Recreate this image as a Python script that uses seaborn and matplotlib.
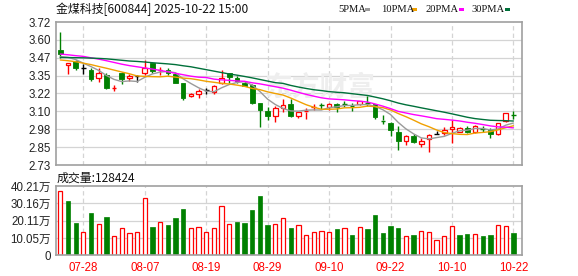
import numpy as np
import pandas as pd
import matplotlib
matplotlib.use("Agg")
import matplotlib.pyplot as plt
from matplotlib.patches import Rectangle
import seaborn as sns

# ---------------- data ----------------
dates = ["07-23", "07-24", "07-25", "07-28", "07-29", "07-30", "07-31",
         "08-01", "08-04", "08-05", "08-06", "08-07", "08-08", "08-11", "08-12", "08-13",
         "08-14", "08-15", "08-18", "08-19", "08-20", "08-21", "08-22", "08-25", "08-26",
         "08-27", "08-28", "08-29",
         "09-01", "09-02", "09-03", "09-04", "09-05", "09-08", "09-09", "09-10", "09-11",
         "09-12", "09-15", "09-16", "09-17", "09-18", "09-19", "09-22", "09-23", "09-24",
         "09-25", "09-26", "09-29", "09-30",
         "10-09", "10-10", "10-13", "10-14", "10-15", "10-16", "10-17", "10-20", "10-21", "10-22"]

opens = [3.525, 3.42, 3.452, 3.40, 3.388, 3.33, 3.353, 3.26, 3.369, 3.332,
         3.345, 3.369, 3.434, 3.386, 3.388, 3.363, 3.30, 3.205, 3.22, 3.25,
         3.238, 3.30, 3.365, 3.332, 3.30, 3.282, 3.157, 3.106, 3.071, 3.122,
         3.152, 3.071, 3.10, 3.132, 3.146, 3.134, 3.152, 3.154, 3.14, 3.15,
         3.159, 3.152, 3.04, 3.023, 2.96, 2.898, 2.928, 2.878, 2.91, 2.942,
         2.954, 2.978, 2.96, 2.988, 2.956, 2.979, 2.972, 2.942, 3.037, 3.078]
highs = [3.648, 3.437, 3.458, 3.428, 3.404, 3.404, 3.365, 3.284, 3.372, 3.36,
         3.355, 3.457, 3.437, 3.41, 3.40, 3.367, 3.30, 3.226, 3.256, 3.265,
         3.285, 3.388, 3.37, 3.348, 3.31, 3.289, 3.162, 3.134, 3.138, 3.19,
         3.19, 3.10, 3.122, 3.15, 3.161, 3.156, 3.156, 3.175, 3.157, 3.175,
         3.21, 3.155, 3.078, 3.03, 3.001, 2.937, 2.945, 2.915, 2.948, 2.965,
         2.995, 3.04, 2.99, 3.0, 3.005, 3.0, 2.988, 3.018, 3.09, 3.104]
lows = [3.47, 3.358, 3.39, 3.358, 3.311, 3.307, 3.258, 3.244, 3.289, 3.31,
        3.305, 3.353, 3.37, 3.355, 3.355, 3.30, 3.18, 3.20, 3.196, 3.22,
        3.22, 3.29, 3.296, 3.30, 3.275, 3.155, 2.99, 3.04, 3.03, 3.10,
        3.065, 3.053, 3.046, 3.11, 3.115, 3.11, 3.095, 3.134, 3.106, 3.145,
        3.138, 3.046, 3.012, 2.928, 2.836, 2.87, 2.885, 2.857, 2.822, 2.942,
        2.94, 2.88, 2.955, 2.95, 2.95, 2.956, 2.915, 2.94, 3.03, 3.048]
closes = [3.497, 3.434, 3.40, 3.40, 3.325, 3.365, 3.26, 3.263, 3.325, 3.348,
          3.345, 3.404, 3.381, 3.389, 3.369, 3.30, 3.192, 3.222, 3.242, 3.25,
          3.278, 3.33, 3.336, 3.312, 3.28, 3.157, 3.108, 3.071, 3.127, 3.145,
          3.071, 3.10, 3.105, 3.135, 3.143, 3.152, 3.129, 3.151, 3.137, 3.17,
          3.156, 3.064, 3.036, 2.972, 2.897, 2.933, 2.891, 2.896, 2.937, 2.942,
          2.975, 2.996, 2.984, 2.958, 3.0, 2.976, 2.944, 3.018, 3.09, 3.075]

# volume in 万 (10k lots)
volumes = [37.3, 31.7, 18.7, 13.5, 24.5, 18.0, 22.2, 11.0, 15.6, 12.7,
           13.3, 33.0, 16.4, 19.1, 17.6, 21.6, 26.9, 15.6, 16.2, 13.3,
           15.6, 28.4, 18.0, 19.3, 18.7, 26.3, 34.4, 17.6, 18.0, 21.5,
           15.8, 17.4, 11.6, 13.5, 14.1, 13.5, 15.3, 15.8, 11.8, 16.4,
           15.3, 23.4, 12.9, 17.0, 15.8, 11.2, 11.8, 14.1, 13.5, 8.9,
           11.2, 16.8, 11.8, 12.4, 12.4, 11.2, 11.8, 17.6, 17.0, 12.84]
# 1 = red (up) bar, 0 = green (down) bar
vol_up = [1, 0, 0, 1, 0, 1, 0, 1, 1, 1,
          1, 1, 0, 1, 0, 0, 0, 1, 1, 1,
          1, 1, 1, 0, 0, 0, 0, 0, 1, 1,
          0, 1, 1, 1, 1, 1, 0, 1, 0, 1,
          0, 0, 0, 0, 0, 1, 0, 1, 1, 1,
          1, 1, 0, 0, 1, 0, 0, 1, 1, 0]

# moving-average values for the first bars (window reaches before the chart)
ma5_head = [3.48, 3.475, 3.46, 3.435]
ma10_head = [3.457, 3.452, 3.445, 3.435, 3.425, 3.412, 3.40, 3.387, 3.374]
ma20_head = [3.498, 3.493, 3.487, 3.482, 3.472, 3.463, 3.452, 3.44, 3.428, 3.418,
             3.41, 3.402, 3.394, 3.385, 3.375, 3.365, 3.355, 3.345, 3.338]
ma30_head = [3.475, 3.474, 3.473, 3.472, 3.47, 3.468, 3.465, 3.46, 3.455, 3.45,
             3.447, 3.443, 3.438, 3.434, 3.43, 3.425, 3.417, 3.41, 3.40, 3.39,
             3.38, 3.37, 3.36, 3.352, 3.343, 3.333, 3.322, 3.311, 3.30]

price_ticks = [2.73, 2.85375, 2.9775, 3.10125, 3.225, 3.34875, 3.4725, 3.59625, 3.72]
price_labels = ["2.73", "2.85", "2.98", "3.10", "3.22", "3.35", "3.47", "3.60", "3.72"]
vol_ticks = [0, 10.0525, 20.105, 30.1575, 40.21]
vol_labels = ["0", "10.05万", "20.11万", "30.16万", "40.21万"]
date_labels = ["07-28", "08-07", "08-19", "08-29", "09-10", "09-22", "10-10", "10-22"]

title = "金煤科技[600844] 2025-10-22 15:00"
vol_title = "成交量:128424"
ma_names = ["5PMA", "10PMA", "20PMA", "30PMA"]
ma_windows = [5, 10, 20, 30]
ma_heads = [ma5_head, ma10_head, ma20_head, ma30_head]
ma_colors = ["#9a9a9a", "#f0a000", "#ff00ff", "#00703a"]

# ---------------- style ----------------
sns.set_style("white")
plt.rcParams["font.family"] = ["Liberation Sans", "Noto Sans CJK SC", "DejaVu Sans"]

RED = "#ff0000"
GREEN = "#008000"
GRID = "#d4d4d4"
SPINE = "#a0a0a0"

W, H = 578, 276
fig = plt.figure(figsize=(W / 100, H / 100), dpi=100)
fig.patch.set_facecolor("white")

def frac_box(l, t, r, b):
    return [l / W, 1 - b / H, (r - l) / W, (b - t) / H]

axp = fig.add_axes(frac_box(56, 22, 522.3, 165))
axv = fig.add_axes(frac_box(56, 186, 522.3, 255.3))

n = len(dates)
x = np.arange(n)
xlim = (-0.56, 60.16)
tick_idx = [dates.index(d) for d in date_labels]

for ax in (axp, axv):
    ax.set_xlim(*xlim)
    ax.set_axisbelow(True)
    for s in ax.spines.values():
        s.set_color(SPINE)
        s.set_linewidth(1.2)
    for xi in tick_idx:
        ax.axvline(xi, color=GRID, lw=0.9, ls=(0, (3.5, 2.5)), zorder=0)
    ax.tick_params(axis="both", length=0, pad=3.5, labelsize=8.3, colors="#222222")

# ---------------- price pane ----------------
axp.set_ylim(price_ticks[0], price_ticks[-1])
axp.set_yticks(price_ticks)
axp.set_yticklabels(price_labels)
for t in price_ticks[1:-1]:
    axp.axhline(t, color=GRID, lw=0.9, zorder=0)
axp.set_xticks([])

axp.text(0.566, 0.54, "东方财富", transform=axp.transAxes, ha="center", va="center",
         fontsize=20, color="#eeeeee", family=["Noto Sans CJK SC"], zorder=0.5,
         fontweight="bold")

body_w = 0.6
for i in range(n):
    o, h, l, c = opens[i], highs[i], lows[i], closes[i]
    if c > o:
        col = RED
    elif c < o:
        col = GREEN
    else:
        col = "#000000"
    top, bot = max(o, c), min(o, c)
    axp.vlines(x[i], top, h, color=col, lw=1.0, zorder=2)
    axp.vlines(x[i], l, bot, color=col, lw=1.0, zorder=2)
    if top - bot < 0.005:
        axp.hlines((top + bot) / 2, x[i] - body_w / 2, x[i] + body_w / 2,
                   color=col, lw=1.0, zorder=2)
    elif c > o:
        axp.add_patch(Rectangle((x[i] - body_w / 2, bot), body_w, top - bot,
                                facecolor="white", edgecolor=RED, lw=0.9, zorder=2))
    else:
        axp.add_patch(Rectangle((x[i] - body_w / 2, bot), body_w, top - bot,
                                facecolor=GREEN, edgecolor=GREEN, lw=0.6, zorder=2))

close_s = pd.Series(closes, dtype=float)
ma_df = pd.DataFrame({"idx": x})
for name, w, head in zip(ma_names, ma_windows, ma_heads):
    m = close_s.rolling(w).mean()
    m.iloc[:len(head)] = head
    ma_df[name] = m.values

for name, colr in zip(ma_names, ma_colors):
    sns.lineplot(data=ma_df, x="idx", y=name, ax=axp, color=colr, linewidth=1.0,
                 zorder=3, legend=False)
axp.set_xlabel("")
axp.set_ylabel("")
axp.set_xlim(*xlim)

# ---------------- volume pane ----------------
axv.set_ylim(vol_ticks[0], vol_ticks[-1])
axv.set_yticks(vol_ticks)
axv.set_yticklabels(vol_labels)
for t in vol_ticks[1:-1]:
    axv.axhline(t, color=GRID, lw=0.9, zorder=0)

vol_df = pd.DataFrame({"idx": x, "vol": volumes, "up": vol_up})
up = vol_df[vol_df.up == 1]
dn = vol_df[vol_df.up == 0]
axv.bar(up.idx, up.vol, width=0.56, facecolor="white", edgecolor=RED, lw=0.9, zorder=2)
axv.bar(dn.idx, dn.vol, width=0.56, facecolor=GREEN, edgecolor=GREEN, lw=0.5, zorder=2)

axv.set_xticks(tick_idx)
axv.set_xticklabels(date_labels)
axv.tick_params(axis="x", colors=RED, pad=5, labelsize=8.3)
axv.set_xlim(*xlim)

# ---------------- texts ----------------
fig.text(56 / W, 1 - 9 / H, title, ha="left", va="center", fontsize=8.6,
         family=["Noto Sans CJK SC", "DejaVu Sans"], color="#111111")
fig.text(57 / W, 1 - 178 / H, vol_title, ha="left", va="center", fontsize=8.6,
         family=["Noto Sans CJK SC", "DejaVu Sans"], color="#111111")

legend_text_x = [338.7, 380.7, 425.0, 471.0]
legend_mark_x = [364.7, 412.0, 458.7, 504.7]
for name, colr, tx, mx in zip(ma_names, ma_colors, legend_text_x, legend_mark_x):
    fig.text(tx / W, 1 - 9.5 / H, name, ha="left", va="center", fontsize=7.6,
             family=["Liberation Serif"], color="#111111")
    fig.add_artist(Rectangle((mx / W, 1 - 11 / H), 5 / W, 3 / H,
                             transform=fig.transFigure, facecolor=colr,
                             edgecolor="none"))

fig.savefig("out.png", dpi=100, facecolor="white")
